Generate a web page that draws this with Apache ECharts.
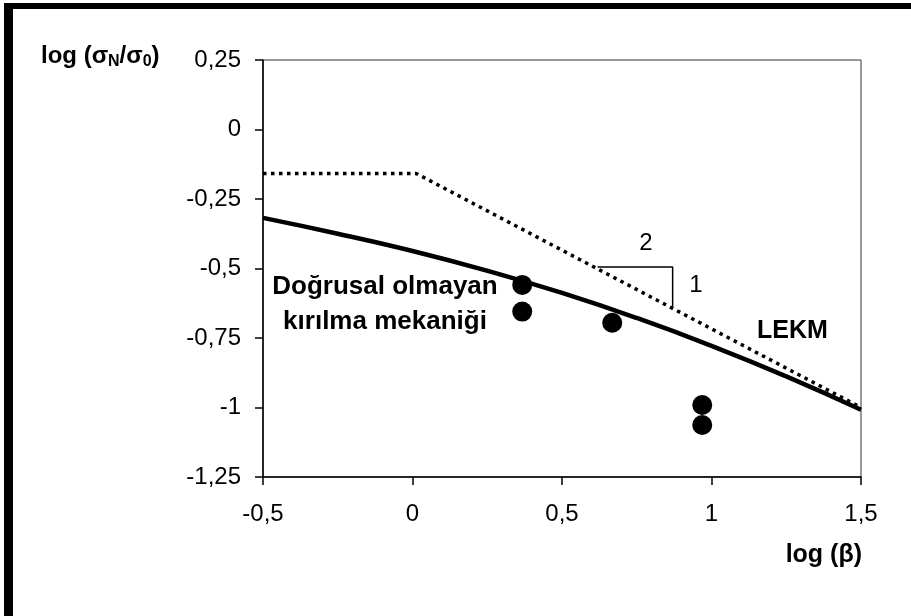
<!DOCTYPE html>
<html>
<head>
<meta charset="utf-8">
<script src="https://cdn.jsdelivr.net/npm/echarts@6/dist/echarts.min.js"></script>
<style>html,body{margin:0;padding:0;background:#fff}#c{width:911px;height:616px}</style>
</head>
<body>
<div id="c"></div>
<script>
// Data
var curveX = [-0.5, -0.25, 0, 0.25, 0.5, 0.75, 1, 1.25, 1.5];
var curveY = [-0.318, -0.375, -0.437, -0.508, -0.588, -0.678, -0.778, -0.888, -1.008];
var lekmX = [-0.5, 0.012, 1.5];
var lekmY = [-0.158, -0.158, -1.0];
var pointsX = [0.367, 0.367, 0.668, 0.969, 0.969];
var pointsY = [-0.559, -0.655, -0.695, -0.991, -1.063];
var slopeX = [0.619, 0.870, 0.870];
var slopeY = [-0.495, -0.495, -0.638];
var xTicks = {min: -0.5, max: 1.5, interval: 0.5};
var yTicks = {min: -1.25, max: 0.25, interval: 0.25};

function zip(a, b) { return a.map(function (v, i) { return [v, b[i]]; }); }
function fmt(v) { return String(v).replace('.', ','); }

var FONT = "'Liberation Sans', Arial, sans-serif";
var chart = echarts.init(document.getElementById('c'), null, {renderer: 'canvas'});
chart.setOption({
  animation: false,
  backgroundColor: '#fff',
  grid: {left: 263, right: 50, top: 60, bottom: 139, show: true, borderColor: '#333', borderWidth: 1, backgroundColor: 'transparent'},
  xAxis: {
    type: 'value', min: xTicks.min, max: xTicks.max, interval: xTicks.interval,
    axisLine: {onZero: false, lineStyle: {color: '#000', width: 1.5}},
    axisTick: {show: true, length: 8, lineStyle: {color: '#000', width: 1.5}},
    splitLine: {show: false},
    axisLabel: {formatter: fmt, color: '#000', fontSize: 24, fontFamily: FONT, margin: 25}
  },
  yAxis: {
    type: 'value', min: yTicks.min, max: yTicks.max, interval: yTicks.interval,
    axisLine: {onZero: false, lineStyle: {color: '#000', width: 1.5}},
    axisTick: {show: true, length: 8, lineStyle: {color: '#000', width: 1.5}},
    splitLine: {show: false},
    axisLabel: {formatter: fmt, color: '#000', fontSize: 24, fontFamily: FONT, margin: 22}
  },
  series: [
    {type: 'line', data: zip(curveX, curveY), smooth: true, symbol: 'none',
     lineStyle: {color: '#000', width: 4.5}, z: 3},
    {type: 'line', data: zip(lekmX, lekmY), symbol: 'none',
     lineStyle: {color: '#000', width: 3.5, type: [3.5, 4.5], cap: 'butt'}, z: 3},
    {type: 'line', data: zip(slopeX, slopeY), symbol: 'none',
     lineStyle: {color: '#000', width: 1.5}, z: 2},
    {type: 'scatter', data: zip(pointsX, pointsY), symbol: 'circle', symbolSize: 20,
     itemStyle: {color: '#000', opacity: 1}, z: 4}
  ],
  graphic: [
    {type: 'rect', shape: {x: 4, y: 3, width: 9, height: 613}, style: {fill: '#000'}},
    {type: 'rect', shape: {x: 4, y: 3, width: 907, height: 6}, style: {fill: '#000'}},
    {type: 'text', left: 41, top: 44, style: {
      text: '{b|log (σ}{s|N}{b|/σ}{s|0}{b|)}',
      rich: {
        b: {fontSize: 24, fontWeight: 'bold', fontFamily: FONT, fill: '#000', verticalAlign: 'bottom'},
        s: {fontSize: 16, fontWeight: 'bold', fontFamily: FONT, fill: '#000', padding: [0, 0, -2, 0], verticalAlign: 'bottom'}
      }
    }},
    {type: 'text', right: 49, top: 543, style: {text: 'log (β)', fontSize: 25, fontWeight: 'bold', fontFamily: FONT, fill: '#000'}},
    {type: 'text', left: 757, top: 319, style: {text: 'LEKM', fontSize: 25, fontWeight: 'bold', fontFamily: FONT, fill: '#000'}},
    {type: 'text', x: 385, y: 304, style: {text: 'Doğrusal olmayan\nkırılma mekaniği', fontSize: 26, lineHeight: 35, fontWeight: 'bold', fontFamily: FONT, fill: '#000', align: 'center', verticalAlign: 'middle'}},
    {type: 'text', x: 646, y: 243, style: {text: '2', fontSize: 24, fontFamily: FONT, fill: '#000', align: 'center', verticalAlign: 'middle'}},
    {type: 'text', x: 696, y: 285, style: {text: '1', fontSize: 24, fontFamily: FONT, fill: '#000', align: 'center', verticalAlign: 'middle'}}
  ]
});
</script>
</body>
</html>
